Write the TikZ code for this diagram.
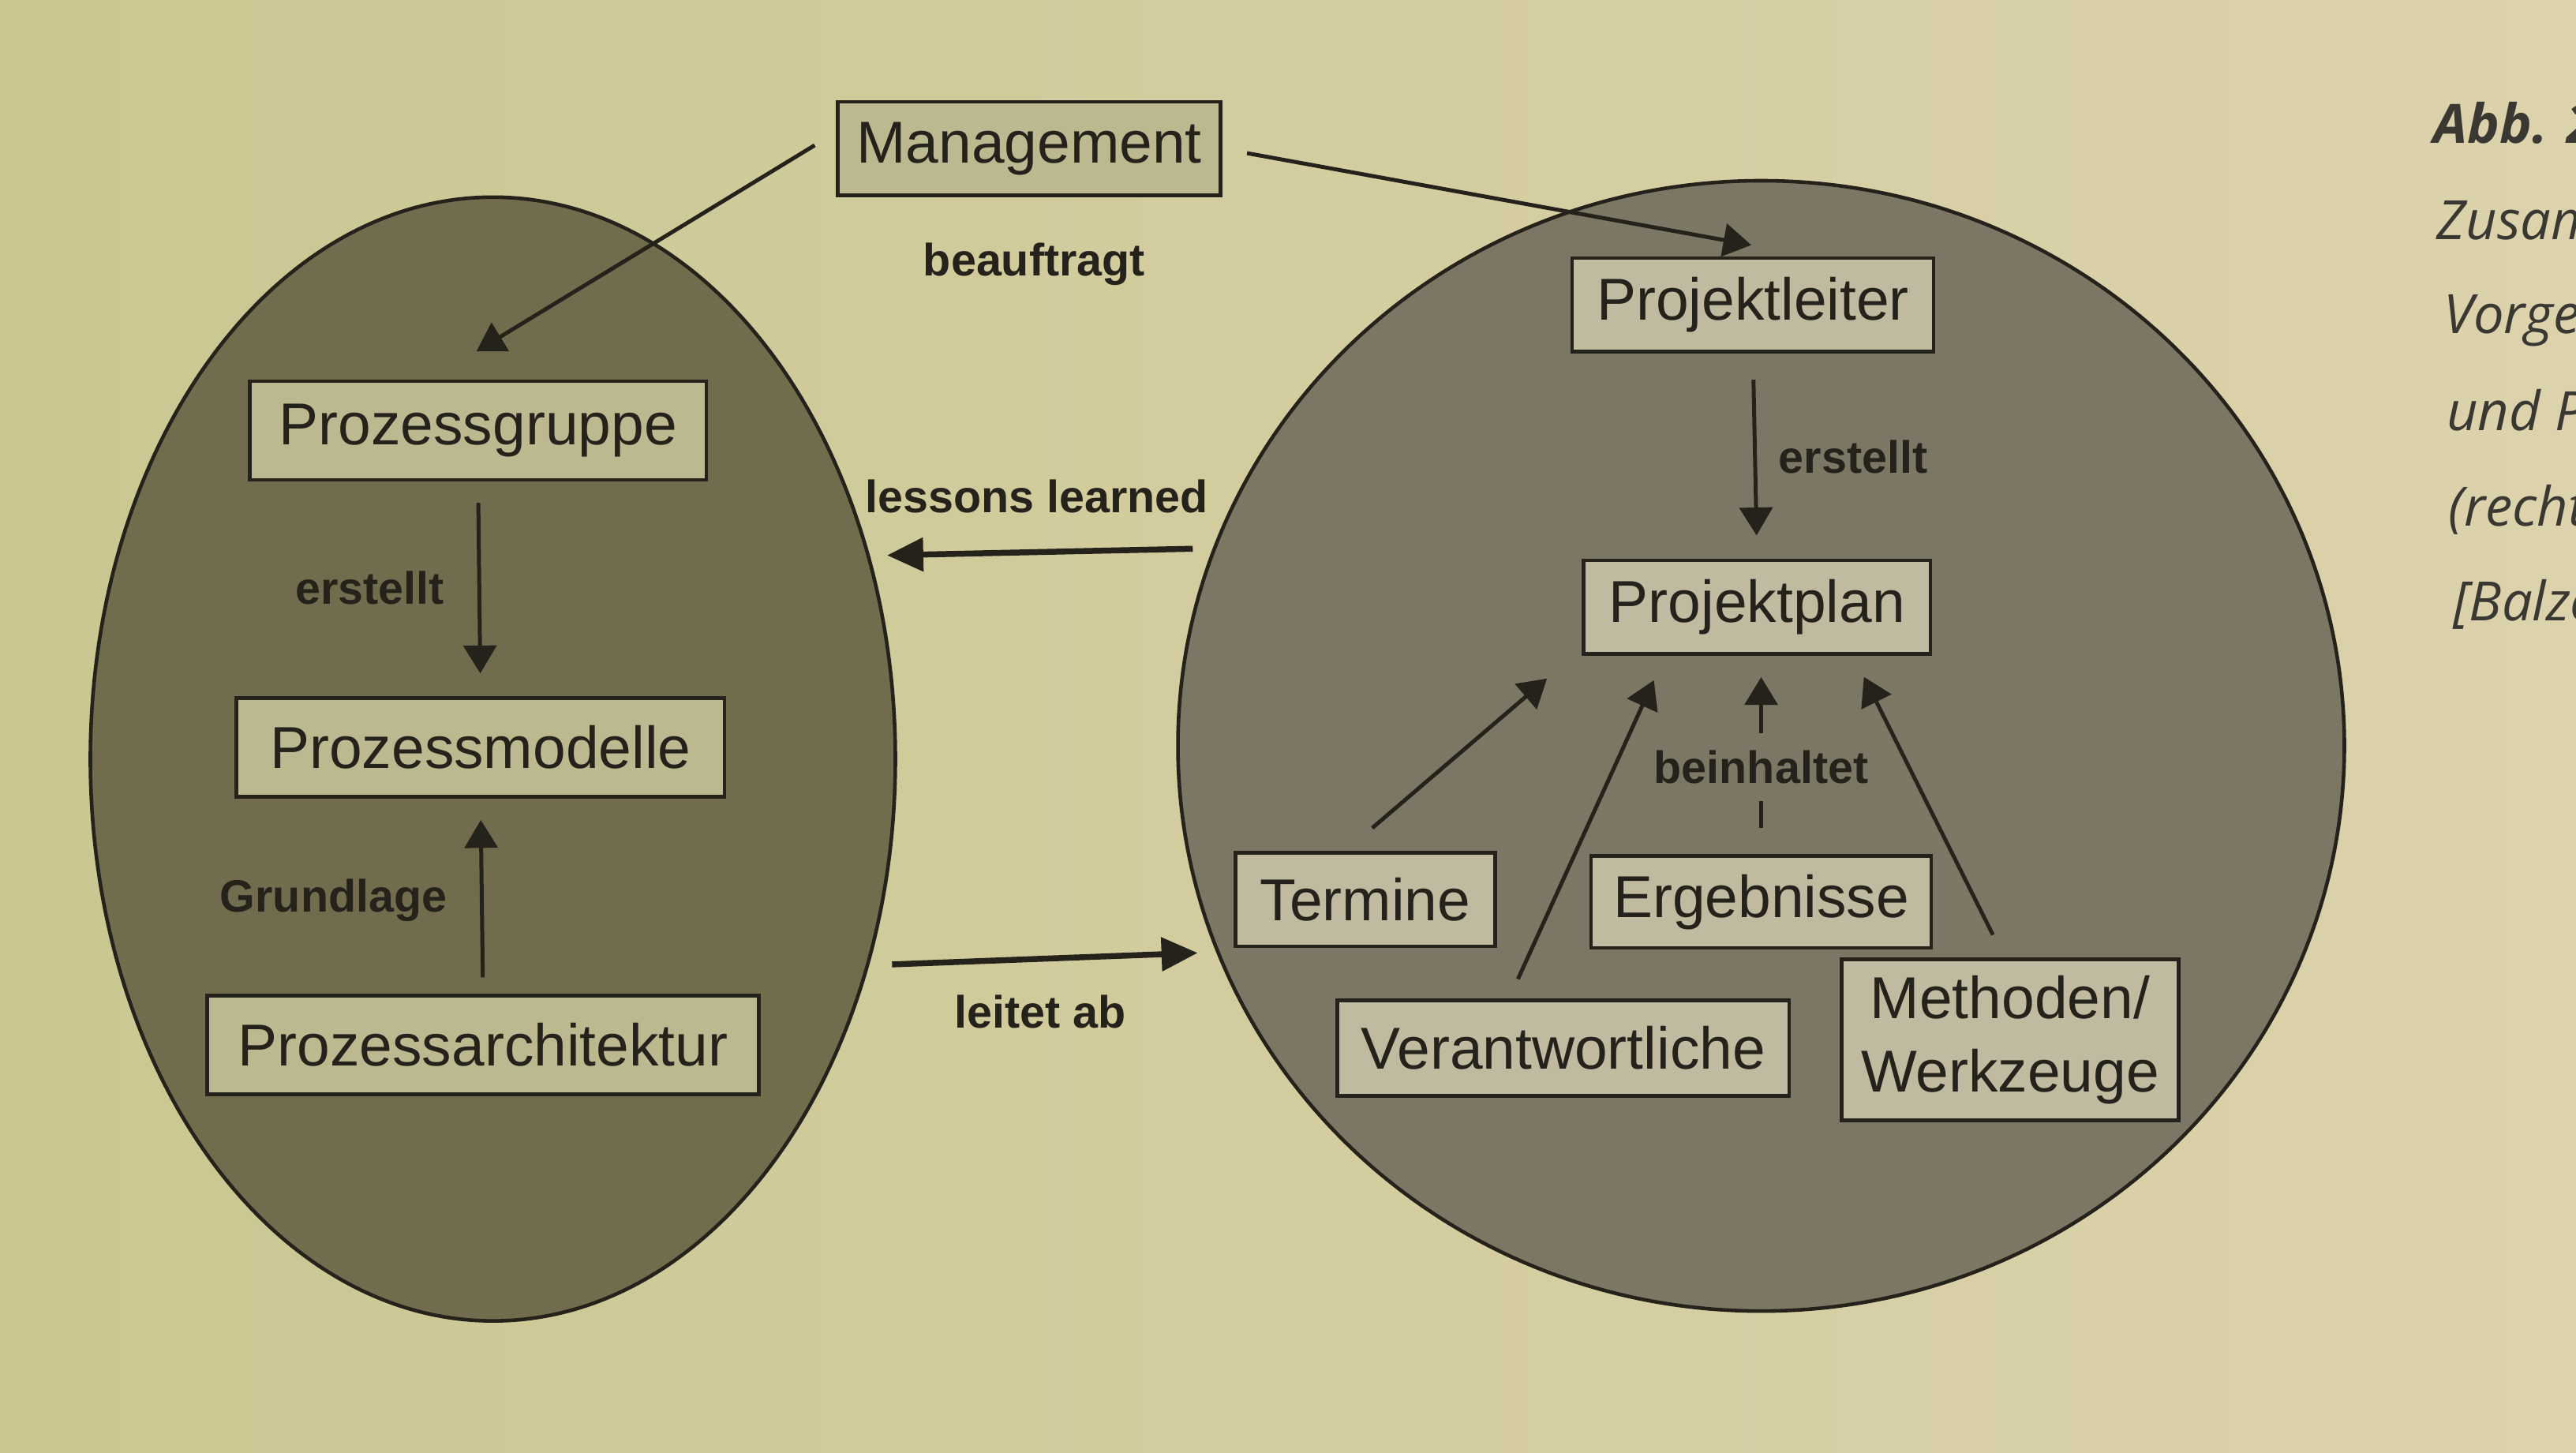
\documentclass[tikz,border=0pt]{standalone}
\usepackage{fontspec}
\setmainfont{Liberation Sans}
\newfontfamily\capfont{Open Sans}
\usetikzlibrary{arrows.meta}
\definecolor{paperL}{RGB}{202,199,146}
\definecolor{paperR}{RGB}{220,210,172}
\definecolor{blobL}{RGB}{114,108,78}
\definecolor{blobR}{RGB}{124,118,100}
\definecolor{boxL}{RGB}{188,185,145}
\definecolor{boxR}{RGB}{192,187,160}
\definecolor{ink}{RGB}{36,34,27}

\begin{document}
\begin{tikzpicture}[x=0.5pt,y=-0.5pt,>={Triangle[length=8.5pt,width=10pt]},
    box/.style={draw=ink,line width=1.1pt,inner sep=0pt,text=ink,align=center,font=\fontsize{18}{22.5}\selectfont},
    lbl/.style={inner sep=0pt,text=ink,font=\fontsize{13.8}{16}\selectfont\bfseries},
    arr/.style={->,ink,line width=1.2pt},
    wide arr/.style={->,ink,line width=1.8pt,>={Triangle[length=11pt,width=10pt]}},
    capline/.style={anchor=base west,inner sep=0pt,text=ink!90,font=\capfont\fontsize{16.5}{20}\selectfont\itshape}]
    \useasboundingbox (0,0) rectangle (1568,884);
    \clip (0,0) rectangle (1568,884);
    \shade[left color=paperL,right color=paperR] (0,0) rectangle (1568,884);

    \draw[ink,line width=1.1pt,fill=blobL] (300,462) ellipse [x radius=122.5pt,y radius=171pt];
    \draw[ink,line width=1.1pt,fill=blobR] (1072,454) ellipse [x radius=177.5pt,y radius=172pt];

    \node[box,fill=boxL,minimum width=116.5pt,minimum height=28.5pt] (mgmt) at (626.5,90.5) {Management};
    \node[box,fill=boxL,minimum width=139pt,minimum height=30pt] (pg) at (291,262) {Prozessgruppe};
    \node[box,fill=boxL,minimum width=148.5pt,minimum height=30pt] (pm) at (292.5,455) {Prozessmodelle};
    \node[box,fill=boxL,minimum width=168pt,minimum height=30pt] (pa) at (294,636) {Prozessarchitektur};

    \node[box,fill=boxR,minimum width=110pt,minimum height=28.5pt] (plr) at (1067,185.5) {Projektleiter};
    \node[box,fill=boxR,minimum width=105.5pt,minimum height=28.5pt] (pp) at (1069.5,369.5) {Projektplan};
    \node[box,fill=boxR,minimum width=79pt,minimum height=28.5pt] (term) at (831,547.5) {Termine};
    \node[box,fill=boxR,minimum width=103.5pt,minimum height=28pt] (erg) at (1072,549) {Ergebnisse};
    \node[box,fill=boxR,minimum width=137.5pt,minimum height=29pt] (ver) at (951.5,638) {Verantwortliche};
    \node[box,fill=boxR,minimum width=102.5pt,minimum height=49pt] (meth) at (1223.5,633) {Methoden/\\Werkzeuge};

    \node[lbl] (bt) at (629.5,161) {beauftragt};
    \node[lbl] (ll) at (631,302) {lessons learned};
    \node[lbl] (la) at (633,616) {leitet ab};
    \node[lbl] (er1) at (225,358) {erstellt};
    \node[lbl] (gl) at (203,548) {Grundlage};
    \node[lbl] (er2) at (1128,278) {erstellt};
    \node[lbl,inner ysep=5pt] (bh) at (1072,467) {beinhaltet};

    \coordinate (llR) at (726,334);
    \coordinate (llL) at (540,338);
    \coordinate (laL) at (543,587);
    \coordinate (laR) at (729,580);

    \path[arr]
        ([yshift=5pt]mgmt.west) edge[shorten <=7.6pt,shorten >=16.4pt] ([xshift=-14.5pt]pg.north)
        (mgmt.east) edge[shorten <=7.6pt,shorten >=18.8pt] ([xshift=18pt]plr.north)
        (pg.south) edge[shorten <=6.5pt,shorten >=7pt] (pm.north)
        (pa.north) edge[shorten <=5pt,shorten >=6.5pt] (pm.south)
        (plr.south) edge[shorten <=8pt,shorten >=7pt] (pp.north)
        ([xshift=-6pt]term.north) edge[shorten <=10.7pt,shorten >=10.7pt] ([xshift=-2.5pt]pp.south west)
        ([xshift=-16.5pt]ver.north) edge[shorten <=6.6pt,shorten >=8.2pt] ([xshift=-28pt]pp.south)
        (erg.north) edge[-,shorten <=8pt] (bh)
        (bh) edge[shorten >=6.5pt] ([xshift=1.25pt]pp.south)
        ([xshift=-1.75pt]meth.north) edge[shorten <=7.8pt,shorten >=7.2pt] ([xshift=-24pt]pp.south east)
        ;
    \path[wide arr] (llR) edge (llL) (laL) edge (laR);

    \node[capline] (abb) at (1481,87) {\bfseries Abb. 2};
    \node[capline] (c1) at (1483,146) {Zusam};
    \node[capline] (c2) at (1487,203) {Vorge};
    \node[capline] (c3) at (1489,262) {und P};
    \node[capline] (c4) at (1490,320) {(recht};
    \node[capline] (c5) at (1493,378) {[Balze};
\end{tikzpicture}
\end{document}
